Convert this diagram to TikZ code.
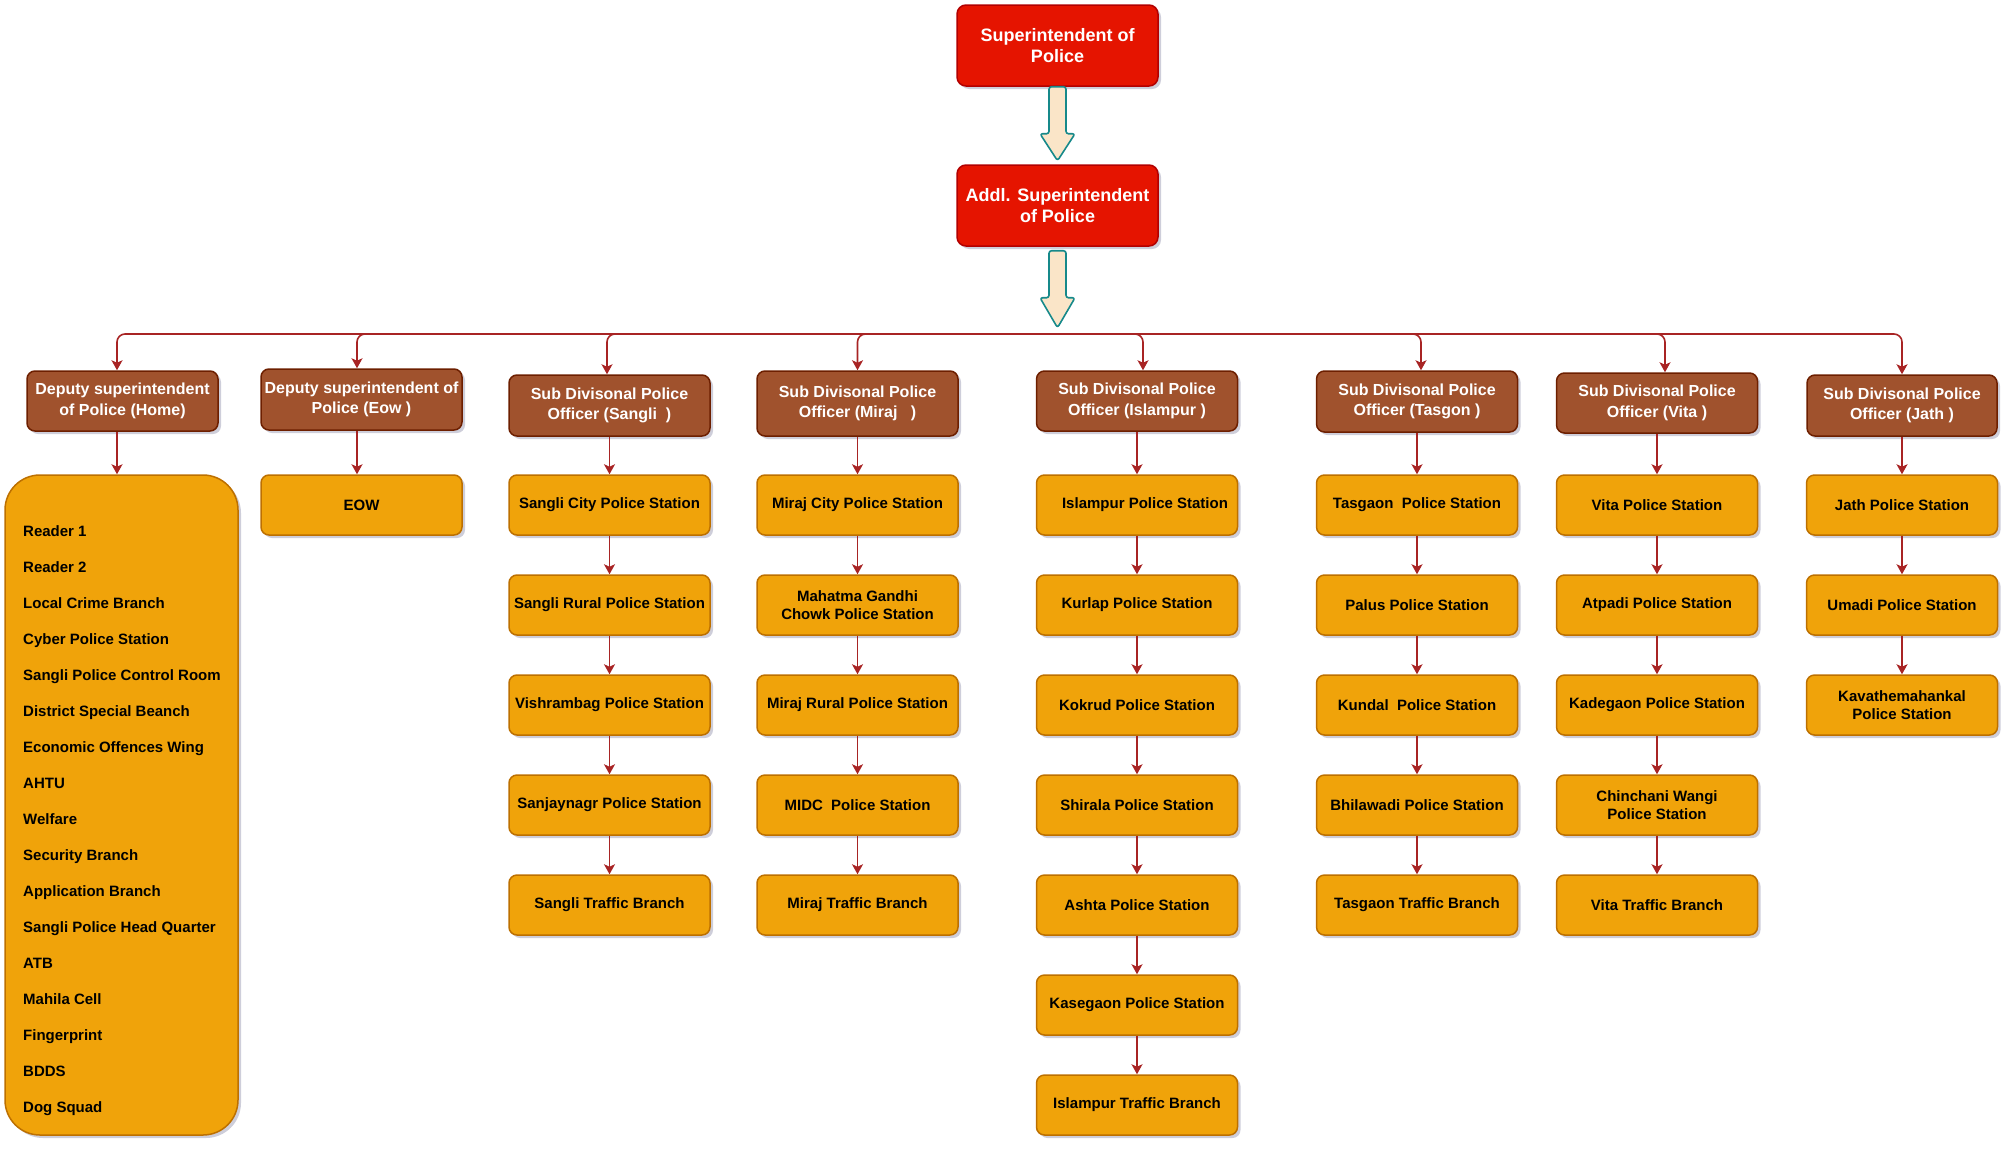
\documentclass[tikz,border=0pt]{standalone}
\usepackage{fontspec}
\setmainfont{Liberation Sans}
\usetikzlibrary{shadows,arrows.meta,calc}
\definecolor{spred}{HTML}{E51400}
\definecolor{spredline}{HTML}{B20000}
\definecolor{brownf}{HTML}{A0522D}
\definecolor{brownl}{HTML}{6D1F00}
\definecolor{orf}{HTML}{F0A30A}
\definecolor{orl}{HTML}{BD7000}
\definecolor{connc}{HTML}{A82424}
\definecolor{bafill}{HTML}{FAE5C8}
\definecolor{baline}{HTML}{16898A}
\definecolor{shad}{HTML}{50507A}
\begin{document}
\begin{tikzpicture}[x=1pt,y=-1pt,
  shd/.style={drop shadow={shadow xshift=3pt,shadow yshift=-3pt,fill=shad,opacity=0.28}},
  topbox/.style={shd,draw=spredline,fill=spred,line width=1.5pt,rounded corners=9pt,
    minimum width=201pt,minimum height=81pt,text=white,align=center,inner sep=2pt,
    font=\bfseries\fontsize{18}{21}\selectfont},
  midbox/.style={shd,draw=brownl,fill=brownf,line width=1.5pt,rounded corners=8pt,
    minimum width=201pt,minimum height=61pt,text=white,align=center,inner sep=2pt,
    font=\bfseries\fontsize{16}{20.5}\selectfont},
  stbox/.style={shd,draw=orl,fill=orf,line width=1.5pt,rounded corners=8pt,
    minimum width=201pt,minimum height=60pt,text=black,inner sep=2pt,
    font=\bfseries\fontsize{15}{18}\selectfont},
  stboxml/.style={stbox,align=center},
  conn/.style={draw=connc,line width=1.6pt,-{Stealth[length=10pt,width=11pt,inset=2.5pt]}},
  barrowst/.style={draw=baline,fill=bafill,line width=1.6pt,rounded corners=2.5pt,line join=round}
]
\useasboundingbox (0,0) rectangle (2016,1154);

% top
\node[topbox] (sp) at (1057.5,45.5) {Superintendent of\\Police};
\node[topbox] (asp) at (1057.5,205.5) {Addl. Superintendent\\of Police};

\filldraw[barrowst] ([xshift=-8.5pt]sp.south) -- ++(0,47) -- ++(-9,0) -- ++(17.5,27) -- ++(17.5,-27) -- ++(-9,0) -- ++(0,-47) -- cycle;
\filldraw[barrowst] ([xshift=-8.5pt,yshift=-4pt]asp.south) -- ++(0,47) -- ++(-9,0) -- ++(17.5,30) -- ++(17.5,-30) -- ++(-9,0) -- ++(0,-47) -- cycle;

% second level
\node[midbox,minimum width=191pt,minimum height=60pt] (home) at (122.5,401) {Deputy superintendent\\of Police (Home)};
\node[midbox] (eow) at (361.5,399.5) {Deputy superintendent of\\Police (Eow )};
\node[midbox] (sangli) at (609.5,405.5) {Sub Divisonal Police\\Officer (Sangli\ \ )};
\node[midbox,minimum height=65pt] (miraj) at (857.5,403.5) {Sub Divisonal Police\\Officer (Miraj\ \ \ )};
\node[midbox,minimum height=60pt] (isl) at (1137,401) {Sub Divisonal Police\\Officer (Islampur )};
\node[midbox] (tas) at (1417,401.5) {Sub Divisonal Police\\Officer (Tasgon )};
\node[midbox,minimum height=60pt] (vita) at (1657,403) {Sub Divisonal Police\\Officer (Vita )};
\node[midbox,minimum width=190pt] (jath) at (1902,405.5) {Sub Divisonal Police\\Officer (Jath )};

% home list
\node[shd,draw=orl,fill=orf,line width=1.5pt,rounded corners=35pt,minimum width=233pt,minimum height=660pt] (homelist) at (121.5,805) {};
\node[anchor=west,align=left,inner sep=0pt,font=\bfseries\fontsize{15}{36}\selectfont] (hltext) at (23,821) {Reader 1\\Reader 2\\Local Crime Branch\\Cyber Police Station\\Sangli Police Control Room\\District Special Beanch\\Economic Offences Wing\\AHTU\\Welfare\\Security Branch\\Application Branch\\Sangli Police Head Quarter\\ATB\\Mahila Cell\\Fingerprint\\BDDS\\Dog Squad};

% EOW
\node[stbox] (eow1) at (361.5,505) {EOW};

% Sangli
\node[stbox] (sa1) at (609.5,505) {Sangli City Police Station};
\node[stbox] (sa2) at (609.5,605) {Sangli Rural Police Station};
\node[stbox] (sa3) at (609.5,705) {Vishrambag Police Station};
\node[stbox] (sa4) at (609.5,805) {Sanjaynagr Police Station};
\node[stbox] (sa5) at (609.5,905) {Sangli Traffic Branch};

% Miraj
\node[stbox] (mi1) at (857.5,505) {Miraj City Police Station};
\node[stboxml] (mi2) at (857.5,605) {Mahatma Gandhi\\Chowk Police Station};
\node[stbox] (mi3) at (857.5,705) {Miraj Rural Police Station};
\node[stbox] (mi4) at (857.5,805) {MIDC\ \ Police Station};
\node[stbox] (mi5) at (857.5,905) {Miraj Traffic Branch};

% Islampur
\node[stbox] (is1) at (1137,505) {\hspace*{16pt}Islampur Police Station};
\node[stbox] (is2) at (1137,605) {Kurlap Police Station};
\node[stbox] (is3) at (1137,705) {Kokrud Police Station};
\node[stbox] (is4) at (1137,805) {Shirala Police Station};
\node[stbox] (is5) at (1137,905) {Ashta Police Station};
\node[stbox] (is6) at (1137,1005) {Kasegaon Police Station};
\node[stbox] (is7) at (1137,1105) {Islampur Traffic Branch};

% Tasgaon
\node[stbox] (ta1) at (1417,505) {Tasgaon\ \ Police Station};
\node[stbox] (ta2) at (1417,605) {Palus Police Station};
\node[stbox] (ta3) at (1417,705) {Kundal\ \ Police Station};
\node[stbox] (ta4) at (1417,805) {Bhilawadi Police Station};
\node[stbox] (ta5) at (1417,905) {Tasgaon Traffic Branch};

% Vita
\node[stbox] (vi1) at (1657,505) {Vita Police Station};
\node[stbox] (vi2) at (1657,605) {Atpadi Police Station};
\node[stbox] (vi3) at (1657,705) {Kadegaon Police Station};
\node[stboxml] (vi4) at (1657,805) {Chinchani Wangi\\Police Station};
\node[stbox] (vi5) at (1657,905) {Vita Traffic Branch};

% Jath
\node[stbox,minimum width=191pt] (ja1) at (1902,505) {Jath Police Station};
\node[stbox,minimum width=191pt] (ja2) at (1902,605) {Umadi Police Station};
\node[stboxml,minimum width=191pt] (ja3) at (1902,705) {Kavathemahankal\\Police Station};

% distribution connectors
\coordinate (hub) at (1057.5,334);
\draw[conn,rounded corners=8pt] (hub) -| ([xshift=-5.5pt]home.north);
\draw[conn,rounded corners=8pt] (hub) -| ([xshift=-4.5pt]eow.north);
\draw[conn,rounded corners=8pt] (hub) -| ([xshift=-2.5pt]sangli.north);
\draw[conn,rounded corners=8pt] (hub) -| (miraj.north);
\draw[conn,rounded corners=8pt] (hub) -| ([xshift=6pt]isl.north);
\draw[conn,rounded corners=8pt] (hub) -| ([xshift=4pt]tas.north);
\draw[conn,rounded corners=8pt] (hub) -| ([xshift=8pt]vita.north);
\draw[conn,rounded corners=8pt] (hub) -| (jath.north);

% vertical connectors
\draw[conn] ([xshift=-5.5pt]home.south) -- ([xshift=-4.5pt]homelist.north);
\draw[conn] ([xshift=-4.5pt]eow.south) -- ([xshift=-4.5pt]eow1.north);
\foreach \a/\b in {sangli/sa1,sa1/sa2,sa2/sa3,sa3/sa4,sa4/sa5,
                   miraj/mi1,mi1/mi2,mi2/mi3,mi3/mi4,mi4/mi5,
                   isl/is1,is1/is2,is2/is3,is3/is4,is4/is5,is5/is6,is6/is7,
                   tas/ta1,ta1/ta2,ta2/ta3,ta3/ta4,ta4/ta5,
                   vita/vi1,vi1/vi2,vi2/vi3,vi3/vi4,vi4/vi5,
                   jath/ja1,ja1/ja2,ja2/ja3}
  \draw[conn] (\a.south) -- (\b.north);
\end{tikzpicture}
\end{document}
